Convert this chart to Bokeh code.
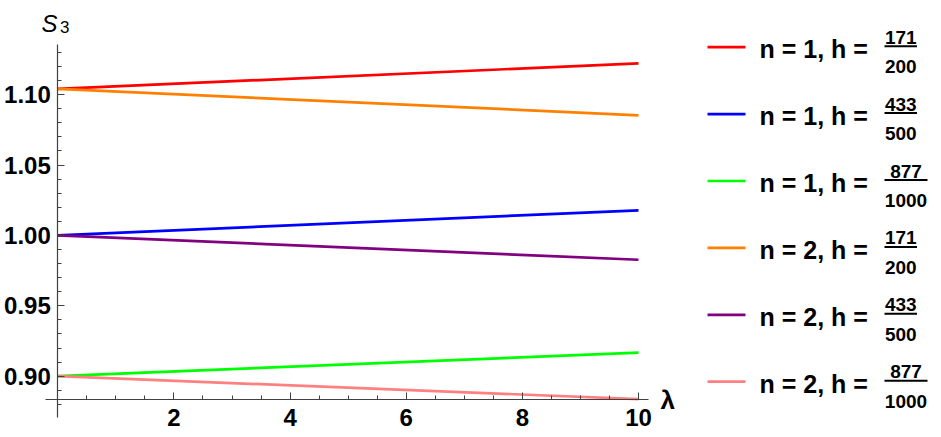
from bokeh.plotting import figure
from bokeh.models import Range1d, LinearAxis, FixedTicker, Label, PrintfTickFormatter
from bokeh.core.properties import value
from bokeh.embed import file_html
from bokeh.resources import INLINE

# ---- data ----
lam = [0, 10]
s_n1_h171 = [1.104, 1.1222]
s_n1_h433 = [1.000, 1.0178]
s_n1_h877 = [0.900, 0.9168]
s_n2_h171 = [1.104, 1.0853]
s_n2_h433 = [1.000, 0.9827]
s_n2_h877 = [0.900, 0.8837]

series = [s_n1_h171, s_n1_h433, s_n1_h877, s_n2_h171, s_n2_h433, s_n2_h877]
n_vals = [1, 1, 1, 2, 2, 2]
h_num = ["171", "433", "877", "171", "433", "877"]
h_den = ["200", "500", "1000", "200", "500", "1000"]
colors = ["#FF0000", "#0000FF", "#00FF00", "#FF8000", "#800080", "#FF8080"]

x_major = [2, 4, 6, 8, 10]
x_minor = [0.5, 1, 1.5, 2.5, 3, 3.5, 4.5, 5, 5.5, 6.5, 7, 7.5, 8.5, 9, 9.5]
y_major = [0.90, 0.95, 1.00, 1.05, 1.10]
y_minor = [0.88, 0.89, 0.91, 0.92, 0.93, 0.94, 0.96, 0.97, 0.98, 0.99,
           1.01, 1.02, 1.03, 1.04, 1.06, 1.07, 1.08, 1.09, 1.11, 1.12, 1.13]

AXIS_COLOR = "#404040"
FONT = "Liberation Sans"

W, H = 941, 437
# screen placement of the coordinate system
X0_PX, X_SCALE = 57.3, 58.07      # pixel of lambda=0, pixels per unit
Y0_PX, Y_SCALE = 375.7, 1408.0    # pixel of S=0.90, pixels per unit


def dx(px):
    return (px - X0_PX) / X_SCALE


def dy(py):
    return 0.90 - (py - Y0_PX) / Y_SCALE


p = figure(width=W, height=H,
           x_range=Range1d(dx(0), dx(W)), y_range=Range1d(dy(H), dy(0)),
           output_backend="svg", toolbar_location=None,
           x_axis_type=None, y_axis_type=None, min_border=0)
p.outline_line_color = None

x_axis_y = 0.8832
xa = LinearAxis(fixed_location=x_axis_y, bounds=(-0.212, 10.17),
                ticker=FixedTicker(ticks=x_major, minor_ticks=x_minor))
ya = LinearAxis(fixed_location=0, bounds=(0.8705, 1.1355),
                ticker=FixedTicker(ticks=y_major, minor_ticks=y_minor),
                formatter=PrintfTickFormatter(format="%.2f"))
for ax in (xa, ya):
    ax.axis_line_color = AXIS_COLOR
    ax.axis_line_width = 1.2
    ax.major_tick_line_color = AXIS_COLOR
    ax.minor_tick_line_color = AXIS_COLOR
    ax.major_tick_in = 7
    ax.major_tick_out = 0
    ax.minor_tick_in = 4
    ax.minor_tick_out = 0
    ax.major_label_text_font = FONT
    ax.major_label_text_font_style = "bold"
    ax.major_label_text_font_size = "24px"
    ax.major_label_text_color = "black"
xa.major_label_standoff = 9
ya.major_label_standoff = 7
p.add_layout(xa, "below")
p.add_layout(ya, "left")

for s, c in zip(series, colors):
    p.line(lam, s, line_color=c, line_width=2.7)

p.add_layout(Label(x=dx(41), y=dy(22.5), text="S", text_font=FONT,
                   text_font_style="italic", text_font_size="24px",
                   text_baseline="middle", text_align="left", text_color="black"))
p.add_layout(Label(x=dx(59.5), y=dy(26.2), text="3", text_font=FONT,
                   text_font_size="17px", text_baseline="middle",
                   text_align="left", text_color="black"))
p.add_layout(Label(x=dx(660), y=x_axis_y, text="λ", text_font=FONT,
                   text_font_style="bold", text_font_size="26px",
                   text_baseline="middle", text_align="left", text_color="black"))

# ---- legend (positions in screen pixels, converted to data space) ----
for i, (n, num, den, c) in enumerate(zip(n_vals, h_num, h_den, colors)):
    ly = 46.7 + 66.9 * i
    p.segment(x0=[dx(707)], y0=[dy(ly)], x1=[dx(745)], y1=[dy(ly)],
              line_color=c, line_width=2.7)
    p.text(x=[dx(759)], y=[dy(ly + 2)], text=[f"n = {n}, h ="],
           text_font=value(FONT), text_font_style="bold", text_font_size="25px",
           text_baseline="middle", text_align="left", text_color="black")
    w = max(len(num), len(den)) * 10.5 + 1
    p.segment(x0=[dx(884)], y0=[dy(ly - 1)], x1=[dx(884 + w)], y1=[dy(ly - 1)],
              line_color="black", line_width=2)
    p.text(x=[dx(884 + w / 2)], y=[dy(ly - 10)], text=[num],
           text_font=value(FONT), text_font_style="bold", text_font_size="19px",
           text_baseline="middle", text_align="center", text_color="black")
    p.text(x=[dx(884 + w / 2)], y=[dy(ly + 19.7)], text=[den],
           text_font=value(FONT), text_font_style="bold", text_font_size="19px",
           text_baseline="middle", text_align="center", text_color="black")

open("out.html", "w").write(file_html(p, INLINE))
